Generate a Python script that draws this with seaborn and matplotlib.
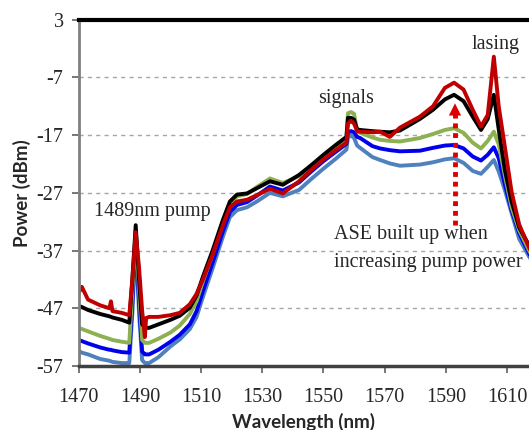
import pandas as pd
import seaborn as sns
import matplotlib.pyplot as plt

# wavelength grid (nm) shared by all traces
wavelength = [1470, 1471, 1473, 1477, 1480, 1480.5, 1481, 1484, 1486.5, 1487.5,
              1488.6, 1489.7, 1490.7, 1491.6, 1492, 1493, 1496, 1500, 1503, 1506.3,
              1508.5, 1510.6, 1513.8, 1517.1, 1519.4, 1521.7, 1525, 1528.2, 1532.5, 1536.7,
              1542, 1546, 1550, 1554, 1557.5, 1558, 1559, 1560, 1561, 1562,
              1566, 1568.5, 1571.7, 1575, 1581.5, 1585.8, 1589.7, 1592.7, 1595.8, 1598.8,
              1601.5, 1603.7, 1605.7, 1607.3, 1609.3, 1611.5, 1614, 1617.5]

# power (dBm), one list per pump level (lowest to highest)
p_steel = [-54.4, -54.7, -55.0, -55.8, -56.1, -56.2, -56.3, -56.5, -56.5, -48.0,
           -35.0, -48.0, -56.0, -56.5, -56.5, -56.5, -55.5, -53.6, -52.4, -50.6,
           -48.5, -45.0, -40.0, -34.6, -31.2, -30.0, -29.5, -28.5, -27.0, -27.6,
           -26.5, -24.6, -22.8, -21.1, -19.5, -17.5, -17.0, -17.5, -18.8, -19.2,
           -20.8, -21.3, -21.9, -22.3, -22.1, -21.7, -21.2, -21.0, -21.8, -23.2,
           -23.7, -22.5, -21.3, -23.3, -26.5, -30.5, -35.0, -38.3]
p_blue = [-52.5, -52.7, -53.1, -53.8, -54.2, -54.2, -54.3, -54.6, -54.7, -46.0,
          -34.0, -46.0, -54.5, -55.0, -55.0, -55.0, -54.2, -52.8, -51.6, -49.8,
          -47.5, -44.0, -39.0, -33.7, -30.3, -29.1, -28.6, -27.5, -25.9, -26.6,
          -25.2, -23.3, -21.5, -19.9, -18.5, -16.5, -16.3, -16.5, -17.3, -17.5,
          -18.9, -19.3, -19.6, -19.8, -19.7, -19.2, -18.8, -18.7, -19.3, -20.7,
          -21.4, -20.4, -19.1, -21.0, -25.5, -30.0, -34.0, -37.8]
p_green = [-50.4, -50.6, -51.0, -51.8, -52.3, -52.4, -52.5, -52.8, -53.0, -44.0,
           -33.5, -44.0, -52.5, -53.0, -53.0, -53.0, -52.3, -51.2, -50.0, -48.0,
           -45.8, -42.3, -37.5, -32.3, -29.0, -27.6, -27.2, -26.0, -24.5, -25.3,
           -24.1, -22.4, -20.6, -19.0, -17.5, -13.2, -13.0, -13.3, -16.3, -16.6,
           -17.4, -17.8, -18.0, -18.1, -17.5, -16.8, -16.1, -15.8, -16.6, -18.3,
           -19.3, -18.0, -16.4, -18.6, -24.0, -29.5, -33.5, -37.3]
p_black = [-46.6, -46.8, -47.3, -48.0, -48.4, -48.5, -48.6, -49.0, -49.5, -42.0,
           -32.6, -42.0, -49.8, -50.3, -50.4, -50.4, -49.8, -49.0, -48.3, -46.9,
           -44.8, -41.5, -36.9, -31.7, -28.5, -27.3, -27.1, -26.2, -25.0, -25.6,
           -23.9, -22.2, -20.4, -18.7, -17.3, -14.0, -14.0, -14.3, -16.0, -16.1,
           -16.3, -16.4, -16.5, -16.2, -14.2, -12.6, -10.8, -10.0, -11.1, -13.8,
           -16.1, -14.2, -10.0, -16.0, -23.0, -28.5, -33.0, -36.4]
p_red = [-44.3, -43.3, -45.5, -46.5, -47.0, -45.8, -47.5, -47.8, -48.2, -42.0,
         -33.8, -40.0, -47.4, -52.0, -48.7, -48.5, -48.5, -48.2, -47.8, -46.3,
         -44.5, -42.0, -37.6, -32.6, -29.5, -28.5, -28.2, -27.4, -26.3, -27.1,
         -25.0, -23.0, -21.2, -19.6, -18.3, -15.0, -14.5, -15.0, -16.3, -16.4,
         -16.5, -16.4, -17.3, -15.7, -13.8, -12.0, -8.8, -7.9, -9.1, -12.6,
         -15.5, -13.5, -3.4, -12.0, -19.0, -26.8, -32.5, -36.8]

traces = ['steel', 'blue', 'green', 'black', 'red']
colors = ['#4f81bd', '#0000ee', '#8db050', '#000000', '#c00000']

x_ticks = [1470, 1490, 1510, 1530, 1550, 1570, 1590, 1610]
y_ticks = [-57, -47, -37, -27, -17, -7, 3]

rows = []
for name, vals in zip(traces, [p_steel, p_blue, p_green, p_black, p_red]):
    for w, p in zip(wavelength, vals):
        rows.append({'wl': w, 'power': p, 'trace': name})
df = pd.DataFrame(rows)

sns.set_style('white')
plt.rcParams['axes.unicode_minus'] = False
plt.rcParams['lines.solid_joinstyle'] = 'round'
plt.rcParams['lines.solid_capstyle'] = 'round'
serif = 'Liberation Serif'

fig = plt.figure(figsize=(5.29, 4.30), dpi=100)
ax = fig.add_axes([0.149, 0.149, 0.851, 0.805])

sns.lineplot(data=df, x='wl', y='power', hue='trace', hue_order=traces,
             palette=dict(zip(traces, colors)), linewidth=2.8, legend=False, ax=ax,
             estimator=None, sort=False)

ax.set_xlim(1470, 1617.2)
ax.set_ylim(-57, 3)
ax.set_xticks(x_ticks)
ax.set_yticks(y_ticks)
ax.set_xticklabels([str(t) for t in x_ticks], fontfamily=serif, fontsize=14.5)
ax.set_yticklabels([str(t) for t in y_ticks], fontfamily=serif, fontsize=14.5)
ax.tick_params(axis='both', direction='out', length=5, width=1.2, color='#606060',
               bottom=True, left=True)
ax.tick_params(axis='x', pad=11)
ax.tick_params(axis='y', pad=6)

for y in y_ticks[1:-1]:
    ax.axhline(y, color='#a6a6a6', linestyle=(0, (3, 3)), linewidth=1, zorder=0)

ax.spines['top'].set_color('black')
ax.spines['top'].set_linewidth(3)
ax.spines['bottom'].set_color('#404040')
ax.spines['bottom'].set_linewidth(2.5)
ax.spines['left'].set_color('#808080')
ax.spines['left'].set_linewidth(2)
ax.spines['right'].set_visible(False)

ax.set_xlabel('Wavelength (nm)', fontfamily='Lato', fontweight='bold', fontsize=13.5, labelpad=4)
ax.set_ylabel('Power (dBm)', fontfamily='Lato', fontweight='bold', fontsize=13.5, labelpad=4)

# annotations
ax.text(1493.9, -30.3, '1489nm pump', fontfamily=serif, fontsize=14.5, ha='center', va='center')
ax.text(1557.3, -10.7, 'signals', fontfamily=serif, fontsize=14.5, ha='center', va='center')
ax.text(1606.4, -1.2, 'lasing', fontfamily=serif, fontsize=14.5, ha='center', va='center')
ax.text(1553.4, -34.3, 'ASE built up when', fontfamily=serif, fontsize=14.5, ha='left', va='center')
ax.text(1553.4, -39.1, 'increasing pump power', fontfamily=serif, fontsize=14.5, ha='left', va='center')

arrow_x = 1593.0
ax.plot([arrow_x, arrow_x], [-32.5, -13.0], color='#dd0000', linewidth=3.5,
        linestyle=(0, (1, 1)), solid_capstyle='butt', dash_capstyle='butt')
ax.annotate('', xy=(arrow_x, -11.0), xytext=(arrow_x, -13.5),
            arrowprops=dict(arrowstyle='-|>', color='#dd0000', lw=0, mutation_scale=22))

fig.savefig('out.png', dpi=100)
